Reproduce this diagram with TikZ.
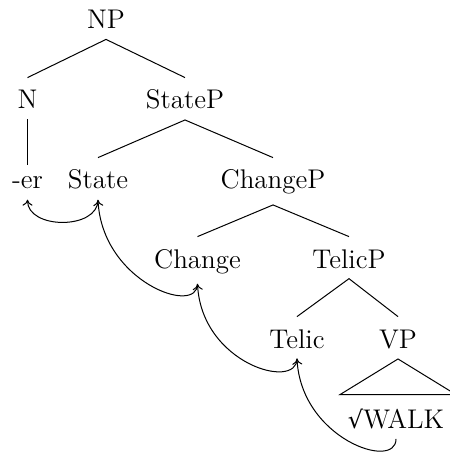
\documentclass[tikz,border=0pt]{standalone}
\usepackage{fontspec}
\newfontfamily\symfont{DejaVu Serif}
\usetikzlibrary{arrows.meta,calc}
\begin{document}
\begin{tikzpicture}[x=0.5pt,y=-0.5pt,
  tn/.style={anchor=base,inner xsep=0pt,inner ysep=5pt,text height=10.5pt,font=\fontsize{13.5}{16}\selectfont},
  br/.style={line width=0.5pt},
  mv/.style={line width=0.5pt,-{To[length=3pt,width=5pt]}}]
\useasboundingbox (0,0) rectangle (449,454);
\node[tn] (np) at (106,29) {NP};
\node[tn] (n) at (27.5,109) {N};
\node[tn] (statep) at (185,109) {StateP};
\node[tn,text height=7pt] (er) at (27.5,189) {-er};
\node[tn] (state) at (98,189) {State};
\node[tn] (changep) at (273,189) {ChangeP};
\node[tn] (change) at (197.5,268) {Change};
\node[tn] (telicp) at (349,268) {TelicP};
\node[tn] (telic) at (297,348) {Telic};
\node[tn] (vp) at (398,348) {VP};
\node[tn,text height=11.5pt] (walk) at (396,428) {{\symfont\fontsize{12}{14}\selectfont √}WALK};
\draw[br] (n.north) -- (np.south) -- (statep.north);
\draw[br] (n.south) -- (er.north);
\draw[br] (state.north) -- (statep.south) -- (changep.north);
\draw[br] (change.north) -- (changep.south) -- (telicp.north);
\draw[br] (telic.north) -- (telicp.south) -- (vp.north);
\draw[br] (vp.south) -- ($(walk.north)+(-56,0)$) -- ($(walk.north)+(60,0)$) -- cycle;
\draw[mv] (state.south) .. controls +(0,30) and +(0,30) .. (er.south);
\draw[mv] (change.south) .. controls +(0,32) and +(4,82) .. (state.south);
\draw[mv] (telic.south) .. controls +(0,32) and +(4,80) .. (change.south);
\draw[mv] (walk.south) .. controls +(0,32) and +(4,80) .. (telic.south);
\end{tikzpicture}
\end{document}
